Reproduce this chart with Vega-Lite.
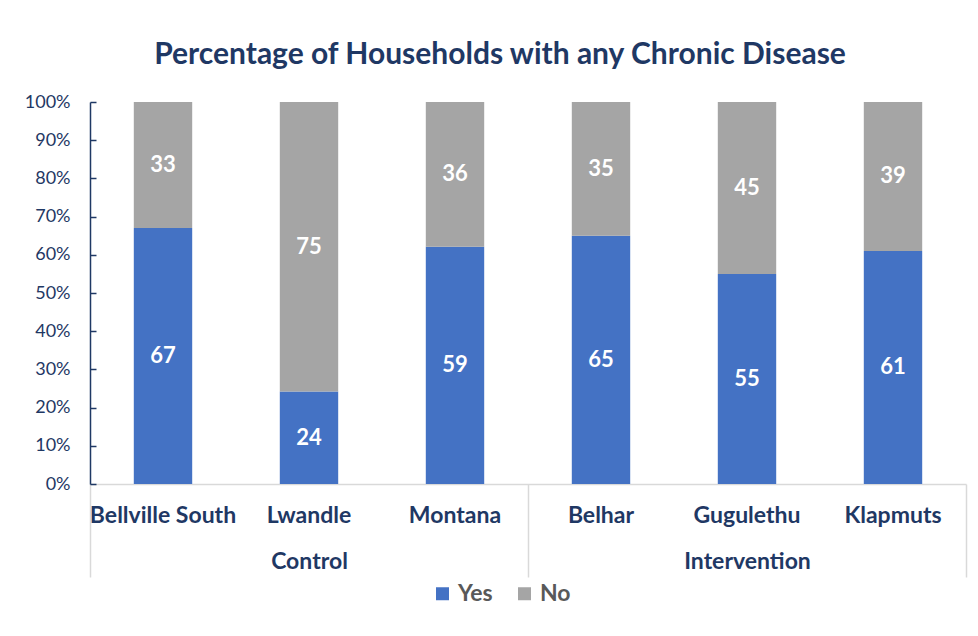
{
  "$schema": "https://vega.github.io/schema/vega-lite/v6.json",
  "width": 876,
  "height": 382,
  "autosize": "none",
  "padding": {"left": 90, "top": 102, "right": 12, "bottom": 152},
  "background": "white",
  "config": {"font": "Lato", "view": {"stroke": null}},
  "title": {
    "text": "Percentage of Households with any Chronic Disease",
    "fontSize": 30,
    "fontWeight": "bold",
    "color": "#1F3864",
    "anchor": "middle",
    "dx": -28,
    "offset": 23
  },
  "data": {
    "values": [
      {"group": "Control", "site": "Bellville South", "answer": "Yes", "percent": 67},
      {"group": "Control", "site": "Bellville South", "answer": "No", "percent": 33},
      {"group": "Control", "site": "Lwandle", "answer": "Yes", "percent": 24},
      {"group": "Control", "site": "Lwandle", "answer": "No", "percent": 75},
      {"group": "Control", "site": "Montana", "answer": "Yes", "percent": 59},
      {"group": "Control", "site": "Montana", "answer": "No", "percent": 36},
      {"group": "Intervention", "site": "Belhar", "answer": "Yes", "percent": 65},
      {"group": "Intervention", "site": "Belhar", "answer": "No", "percent": 35},
      {"group": "Intervention", "site": "Gugulethu", "answer": "Yes", "percent": 55},
      {"group": "Intervention", "site": "Gugulethu", "answer": "No", "percent": 45},
      {"group": "Intervention", "site": "Klapmuts", "answer": "Yes", "percent": 61},
      {"group": "Intervention", "site": "Klapmuts", "answer": "No", "percent": 39}
    ]
  },
  "layer": [
    {
      "layer": [
        {
          "mark": {"type": "bar"},
          "encoding": {
            "x": {
              "field": "site",
              "type": "nominal",
              "sort": ["Bellville South", "Lwandle", "Montana", "Belhar", "Gugulethu", "Klapmuts"],
              "scale": {"paddingInner": 0.6, "paddingOuter": 0.3},
              "axis": {
                "orient": "bottom",
                "title": null,
                "labelAngle": 0,
                "ticks": false,
                "domainColor": "#D9D9D9",
                "domainWidth": 1.5,
                "labelFontSize": 23,
                "labelFontWeight": "bold",
                "labelColor": "#1F3864",
                "labelPadding": 20
              }
            },
            "y": {
              "field": "percent",
              "type": "quantitative",
              "stack": "normalize",
              "axis": {
                "title": null,
                "format": ".0%",
                "tickCount": 11,
                "values": [0, 0.1, 0.2, 0.3, 0.4, 0.5, 0.6, 0.7, 0.8, 0.9, 1],
                "labelOverlap": false,
                "grid": false,
                "domainColor": "#1F3864",
                "domainWidth": 1.5,
                "tickColor": "#1F3864",
                "tickWidth": 1.5,
                "tickSize": -6,
                "labelFontSize": 18,
                "labelColor": "#1F3864",
                "labelPadding": 26
              }
            },
            "color": {
              "field": "answer",
              "type": "nominal",
              "scale": {"domain": ["Yes", "No"], "range": ["#4472C4", "#A5A5A5"]},
              "legend": {
                "title": null,
                "orient": "none",
                "legendX": 341,
                "legendY": 480,
                "direction": "horizontal",
                "symbolType": "square",
                "symbolSize": 169,
                "symbolStrokeWidth": 0,
                "labelFontSize": 23,
                "labelFontWeight": "bold",
                "labelColor": "#595959",
                "labelOffset": 4,
                "columnPadding": 20
              }
            },
            "order": {"field": "answer", "sort": "descending"}
          }
        },
        {
          "mark": {"type": "text", "color": "white", "fontSize": 22, "fontWeight": "bold", "baseline": "middle"},
          "encoding": {
            "x": {
              "field": "site",
              "type": "nominal",
              "sort": ["Bellville South", "Lwandle", "Montana", "Belhar", "Gugulethu", "Klapmuts"]
            },
            "y": {
              "field": "percent",
              "type": "quantitative",
              "stack": "normalize",
              "bandPosition": 0.5,
              "axis": {
                "title": null,
                "format": ".0%",
                "tickCount": 11,
                "values": [0, 0.1, 0.2, 0.3, 0.4, 0.5, 0.6, 0.7, 0.8, 0.9, 1],
                "labelOverlap": false,
                "grid": false,
                "domainColor": "#1F3864",
                "domainWidth": 1.5,
                "tickColor": "#1F3864",
                "tickWidth": 1.5,
                "tickSize": -6,
                "labelFontSize": 18,
                "labelColor": "#1F3864",
                "labelPadding": 26
              }
            },
            "detail": {"field": "answer"},
            "order": {"field": "answer", "sort": "descending"},
            "text": {"field": "percent", "type": "quantitative"}
          }
        }
      ]
    },
    {
      "mark": {"type": "rule", "opacity": 0},
      "encoding": {
        "x": {
          "field": "group",
          "type": "nominal",
          "scale": {"type": "band", "paddingInner": 0, "paddingOuter": 0},
          "axis": {
            "orient": "bottom",
            "title": null,
            "labelAngle": 0,
            "domain": false,
            "ticks": true,
            "tickBand": "extent",
            "tickSize": 93,
            "tickColor": "#D9D9D9",
            "tickWidth": 1.5,
            "labelFontSize": 23,
            "labelFontWeight": "bold",
            "labelColor": "#1F3864",
            "labelPadding": -27
          }
        }
      }
    }
  ],
  "resolve": {"scale": {"x": "independent"}, "axis": {"x": "independent"}}
}
